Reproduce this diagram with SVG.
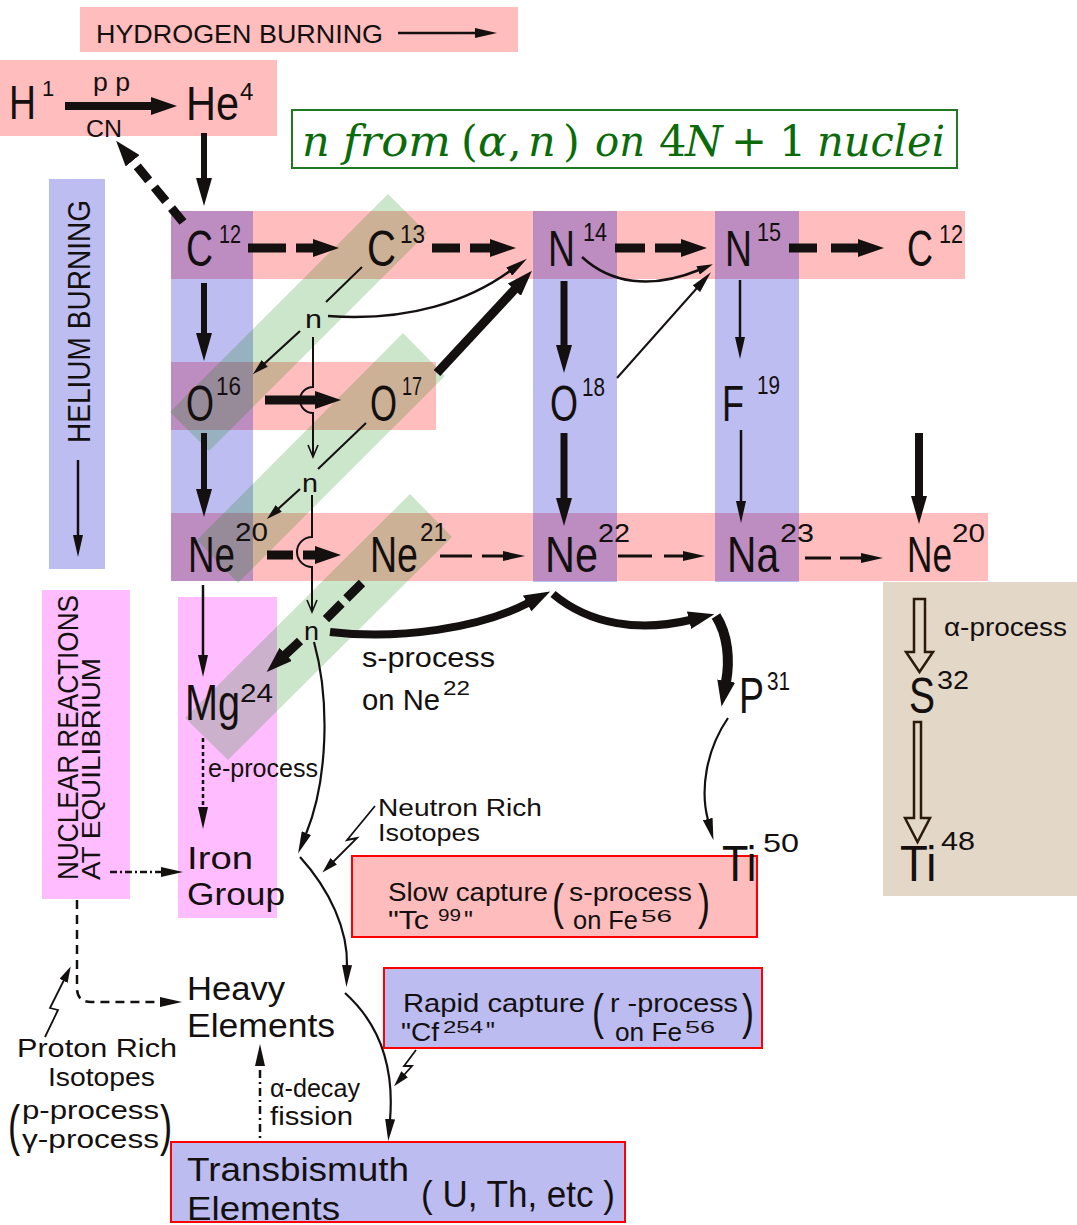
<svg xmlns="http://www.w3.org/2000/svg" width="1077" height="1225" viewBox="0 0 1077 1225">
<defs>
<style>
text{font-family:"Liberation Sans",Arial,sans-serif;fill:#141010}
.iso{font-size:50px}
.sup{font-size:25px}
.par{font-size:50px}
.pink{fill:#ff0000;fill-opacity:.26}
.blue{fill:#0000c8;fill-opacity:.26}
.mag{fill:#ff00ff;fill-opacity:.26}
.grn{fill:#008000;fill-opacity:.2}
.ln{fill:none;stroke:#141010}
.ttl{font-family:"DejaVu Serif","Liberation Serif",serif;font-size:43px;fill:#0b6b0b;font-style:italic}
.up{font-style:normal}
.hol{fill:none;stroke:#2a1a0a;stroke-width:2.5;stroke-linejoin:miter}
</style>
<marker id="mB" viewBox="0 0 26 18" refX="1" refY="9" markerWidth="26" markerHeight="18" markerUnits="userSpaceOnUse" orient="auto"><path d="M0,0L26,9L0,18z" fill="#141010"/></marker>
<marker id="mT" viewBox="0 0 28 16" refX="1" refY="8" markerWidth="28" markerHeight="16" markerUnits="userSpaceOnUse" orient="auto"><path d="M0,0L28,8L0,16z" fill="#141010"/></marker>
<marker id="mN" viewBox="0 0 22 10" refX="1" refY="5" markerWidth="22" markerHeight="10" markerUnits="userSpaceOnUse" orient="auto"><path d="M0,0L22,5L0,10z" fill="#141010"/></marker>
<marker id="mS" viewBox="0 0 16 9" refX="1" refY="4.5" markerWidth="16" markerHeight="9" markerUnits="userSpaceOnUse" orient="auto"><path d="M0,0L16,4.5L0,9z" fill="#141010"/></marker>
<marker id="mO" viewBox="0 0 12 10" refX="12" refY="5" markerWidth="12" markerHeight="10" markerUnits="userSpaceOnUse" orient="auto" overflow="visible"><path d="M0,0L12,5L0,10" fill="none" stroke="#141010" stroke-width="1.6"/></marker>
</defs>
<rect width="1077" height="1225" fill="#ffffff"/>

<g id="bands">
<rect class="pink" x="80" y="7" width="438" height="45"/>
<rect class="pink" x="0" y="60" width="277" height="76"/>
<rect class="pink" x="171" y="211" width="794" height="68"/>
<rect class="pink" x="171" y="362" width="265" height="68"/>
<rect class="pink" x="171" y="513" width="817" height="68"/>
<rect class="blue" x="171" y="211" width="82" height="370"/>
<rect class="blue" x="533" y="211" width="84" height="371"/>
<rect class="blue" x="715" y="211" width="84" height="371"/>
<rect class="blue" x="49" y="179" width="56" height="390"/>
<rect class="mag" x="42" y="590" width="88" height="309"/>
<rect class="mag" x="178" y="597" width="99" height="321"/>
<rect x="883" y="582" width="194" height="314" fill="#e3d7c8"/>
<polygon class="grn" points="388,194 427,233 209,451 170,412"/>
<polygon class="grn" points="403,333 445,376 238,583 197,540"/>
<polygon class="grn" points="410,494 452,537 228,760 185,718"/>
</g>

<g id="title">
<rect x="292" y="110" width="665" height="58" fill="#ffffff" stroke="#217a21" stroke-width="2"/>
<text class="ttl" y="156"><tspan x="302">n</tspan><tspan x="343" textLength="108" lengthAdjust="spacingAndGlyphs">from</tspan><tspan x="461" class="up">(</tspan><tspan x="478">α</tspan><tspan x="508" class="up">,</tspan><tspan x="528">n</tspan><tspan x="563" class="up">)</tspan><tspan x="595" textLength="50" lengthAdjust="spacingAndGlyphs">on</tspan><tspan x="659" class="up">4</tspan><tspan x="685">N</tspan><tspan x="731" class="up">+</tspan><tspan x="779" class="up">1</tspan><tspan x="817" textLength="128" lengthAdjust="spacingAndGlyphs">nuclei</tspan></text>
</g>

<g id="connectors">
<path class="ln" stroke-width="2.5" d="M398,33H476" marker-end="url(#mN)"/>
<path class="ln" stroke-width="8" d="M65,106H152" marker-end="url(#mB)"/>
<path class="ln" stroke-width="6" d="M204,133V179" marker-end="url(#mT)"/>
<path class="ln" stroke-width="9" stroke-dasharray="18 9" d="M183,222L132,160" marker-end="url(#mB)"/>
<path class="ln" stroke-width="9" stroke-dasharray="38 10" d="M248,248H314" marker-end="url(#mB)"/>
<path class="ln" stroke-width="9" stroke-dasharray="28 10" d="M432,248H491" marker-end="url(#mB)"/>
<path class="ln" stroke-width="9" stroke-dasharray="30 10" d="M615,248H682" marker-end="url(#mB)"/>
<path class="ln" stroke-width="9" stroke-dasharray="28 14" d="M789,248H859" marker-end="url(#mB)"/>
<path class="ln" stroke-width="2.5" d="M582,257C610,283 650,290 699,270" marker-end="url(#mS)"/>
<path class="ln" stroke-width="2.5" d="M328,316C410,322 470,300 510,271" marker-end="url(#mN)"/>
<path class="ln" stroke-width="2" d="M362,267L326,302"/>
<path class="ln" stroke-width="2.2" d="M300,331L264,364" marker-end="url(#mS)"/>
<path class="ln" stroke-width="2" d="M313,337V387A13,13 0 0 0 313,413V457" marker-end="url(#mO)"/>
<path class="ln" stroke-width="9" d="M265,400H316" marker-end="url(#mB)"/>
<path class="ln" stroke-width="2" d="M366,423L318,469"/>
<path class="ln" stroke-width="2.2" d="M300,489L278,509" marker-end="url(#mS)"/>
<path class="ln" stroke-width="2" d="M312,495V537A15,15 0 0 0 312,567V612" marker-end="url(#mO)"/>
<path class="ln" stroke-width="9" stroke-dasharray="26 10" d="M267,555H316" marker-end="url(#mB)"/>
<path class="ln" stroke-width="9" stroke-dasharray="22 7" d="M362,583L323,622"/>
<path class="ln" stroke-width="9" d="M300,641L285,655" marker-end="url(#mB)"/>
<path class="ln" stroke-width="8" d="M330,632C400,640 480,628 528,603" marker-end="url(#mB)"/>
<path class="ln" stroke-width="8" d="M553,594C590,625 640,632 690,620" marker-end="url(#mB)"/>
<path class="ln" stroke-width="10" d="M716,616C728,635 730,660 726,682" marker-end="url(#mB)"/>
<path class="ln" stroke-width="2.2" d="M728,718C706,750 700,790 708,820" marker-end="url(#mN)"/>
<path class="ln" stroke-width="2.2" d="M314,642C330,700 328,780 306,834" marker-end="url(#mN)"/>
<path class="ln" stroke-width="2.2" d="M300,857C330,890 348,930 347,966" marker-end="url(#mN)"/>
<path class="ln" stroke-width="2.2" d="M345,993C375,1020 395,1060 390,1120" marker-end="url(#mN)"/>
<path class="ln" stroke-width="1.8" d="M375,806L347,840L357,838L333,862" marker-end="url(#mS)"/>
<path class="ln" stroke-width="1.8" d="M386,890L364,912L372,912L362,922" marker-end="url(#mS)"/>
<path class="ln" stroke-width="1.8" d="M416,1050L404,1066L412,1066L404,1075" marker-end="url(#mS)"/>
<path class="ln" stroke-width="1.8" d="M45,1037L58,1010L50,1008L64,980" marker-end="url(#mS)"/>
<path class="ln" stroke-width="2.5" stroke-dasharray="7 3 2 3" d="M110,872H162" marker-end="url(#mN)"/>
<path class="ln" stroke-width="2.5" stroke-dasharray="9 6" d="M77,900V988Q77,1002 91,1002H161" marker-end="url(#mN)"/>
<path class="ln" stroke-width="2.5" stroke-dasharray="8 4 2 4" d="M260,1150V1065" marker-end="url(#mN)"/>
<path class="ln" stroke-width="2.5" stroke-dasharray="4 3" d="M203,738V808" marker-end="url(#mN)"/>
<path class="ln" stroke-width="2.5" d="M78,460V536" marker-end="url(#mN)"/>
<path class="ln" stroke-width="6" d="M204,283V334" marker-end="url(#mT)"/>
<path class="ln" stroke-width="6" d="M204,433V490" marker-end="url(#mT)"/>
<path class="ln" stroke-width="2.5" d="M203,585V656" marker-end="url(#mN)"/>
<path class="ln" stroke-width="7" d="M564,281V346" marker-end="url(#mT)"/>
<path class="ln" stroke-width="7" d="M564,433V499" marker-end="url(#mT)"/>
<path class="ln" stroke-width="2.5" d="M740,280V338" marker-end="url(#mN)"/>
<path class="ln" stroke-width="2.5" d="M741,430V502" marker-end="url(#mN)"/>
<path class="ln" stroke-width="8" d="M919,433V497" marker-end="url(#mT)"/>
<path class="ln" stroke-width="9" d="M437,373L515,289" marker-end="url(#mB)"/>
<path class="ln" stroke-width="2" d="M617,378L697,288" marker-end="url(#mN)"/>
<path class="ln" stroke-width="3" stroke-dasharray="32 10" d="M440,556H504" marker-end="url(#mN)"/>
<path class="ln" stroke-width="3" stroke-dasharray="34 12" d="M618,556H684" marker-end="url(#mN)"/>
<path class="ln" stroke-width="3" stroke-dasharray="26 9" d="M805,558H862" marker-end="url(#mN)"/>
<path class="hol" d="M914,599H925V652H933L919.5,672L906,652H914Z"/>
<path class="hol" d="M914,722H921V818H930L917.5,842L905,818H914Z"/>
</g>

<g id="hburn"><text x="96" y="43" font-size="25" textLength="287" lengthAdjust="spacingAndGlyphs">HYDROGEN  BURNING</text></g>
<g id="H1"><text transform="translate(9,119) scale(.778,1)" font-size="48">H</text><text x="42" y="96" font-size="22">1</text></g>
<g id="pp"><text x="93" y="91" font-size="25" textLength="37" lengthAdjust="spacingAndGlyphs">p p</text><text x="86" y="137" font-size="24" textLength="36" lengthAdjust="spacingAndGlyphs">CN</text></g>
<g id="He4"><text transform="translate(186,120) scale(.847,1)" font-size="49">He</text><text x="240" y="100" font-size="24">4</text></g>
<g id="heburn"><text transform="translate(90,443) rotate(-90)" font-size="31" textLength="243" lengthAdjust="spacingAndGlyphs">HELIUM   BURNING</text></g>

<g id="C12"><text class="iso" transform="translate(186,266) scale(.748,1)">C</text><text class="sup" x="219" y="243" textLength="22" lengthAdjust="spacingAndGlyphs">12</text></g>
<g id="C13"><text class="iso" transform="translate(367,266) scale(.803,1)">C</text><text class="sup" x="400" y="243" textLength="25" lengthAdjust="spacingAndGlyphs">13</text></g>
<g id="N14"><text class="iso" transform="translate(548,266) scale(.748,1)">N</text><text class="sup" x="583" y="241" textLength="24" lengthAdjust="spacingAndGlyphs">14</text></g>
<g id="N15"><text class="iso" transform="translate(725,266) scale(.748,1)">N</text><text class="sup" x="757" y="241" textLength="24" lengthAdjust="spacingAndGlyphs">15</text></g>
<g id="C12b"><text class="iso" transform="translate(907,266) scale(.72,1)">C</text><text class="sup" x="939" y="243" textLength="24" lengthAdjust="spacingAndGlyphs">12</text></g>
<g id="n1"><text x="305" y="328" font-size="26" textLength="17" lengthAdjust="spacingAndGlyphs">n</text></g>

<g id="O16"><text class="iso" transform="translate(186,421) scale(.72,1)">O</text><text class="sup" x="216" y="395" textLength="25" lengthAdjust="spacingAndGlyphs">16</text></g>
<g id="O17"><text class="iso" transform="translate(370,421) scale(.694,1)">O</text><text class="sup" x="402" y="395" textLength="20" lengthAdjust="spacingAndGlyphs">17</text></g>
<g id="O18"><text class="iso" transform="translate(550,421) scale(.72,1)">O</text><text class="sup" x="582" y="396" textLength="23" lengthAdjust="spacingAndGlyphs">18</text></g>
<g id="F19"><text class="iso" transform="translate(722,421) scale(.72,1)">F</text><text class="sup" x="757" y="394" textLength="23" lengthAdjust="spacingAndGlyphs">19</text></g>
<g id="n2"><text x="302" y="492" font-size="26" textLength="16" lengthAdjust="spacingAndGlyphs">n</text></g>

<g id="Ne20"><text class="iso" transform="translate(188,572) scale(.736,1)">Ne</text><text class="sup" x="235" y="541" font-size="26" textLength="33" lengthAdjust="spacingAndGlyphs">20</text></g>
<g id="Ne21"><text class="iso" transform="translate(370,572) scale(.751,1)">Ne</text><text class="sup" x="420" y="541" textLength="27" lengthAdjust="spacingAndGlyphs">21</text></g>
<g id="Ne22"><text class="iso" transform="translate(545,572) scale(.829,1)">Ne</text><text class="sup" x="598" y="542" textLength="32" lengthAdjust="spacingAndGlyphs">22</text></g>
<g id="Na23"><text class="iso" transform="translate(727,572) scale(.814,1)">Na</text><text class="sup" x="780" y="542" textLength="34" lengthAdjust="spacingAndGlyphs">23</text></g>
<g id="Ne20b"><text class="iso" transform="translate(907,572) scale(.704,1)">Ne</text><text class="sup" x="952" y="542" textLength="33" lengthAdjust="spacingAndGlyphs">20</text></g>
<g id="n3"><text x="304" y="640" font-size="26" textLength="15" lengthAdjust="spacingAndGlyphs">n</text></g>

<g id="Mg24"><text class="iso" transform="translate(185,720) scale(.792,1)">Mg</text><text class="sup" x="240" y="702" font-size="26" textLength="33" lengthAdjust="spacingAndGlyphs">24</text></g>
<g id="eproc"><text x="208" y="777" font-size="26" textLength="110" lengthAdjust="spacingAndGlyphs">e-process</text></g>
<g id="iron"><text x="187" y="869" font-size="32" textLength="66" lengthAdjust="spacingAndGlyphs">Iron</text><text x="187" y="905" font-size="32" textLength="98" lengthAdjust="spacingAndGlyphs">Group</text></g>
<g id="nuclear"><text transform="translate(78,880) rotate(-90)" font-size="30" textLength="285" lengthAdjust="spacingAndGlyphs">NUCLEAR REACTIONS</text><text transform="translate(100,880) rotate(-90)" font-size="25" textLength="222" lengthAdjust="spacingAndGlyphs">AT EQUILIBRIUM</text></g>

<g id="sproc"><text x="362" y="667" font-size="28" textLength="133" lengthAdjust="spacingAndGlyphs">s-process</text><text x="362" y="710" font-size="30" textLength="78" lengthAdjust="spacingAndGlyphs">on Ne</text><text x="443" y="695" font-size="20" textLength="27" lengthAdjust="spacingAndGlyphs">22</text></g>
<g id="P31"><text class="iso" transform="translate(739,713) scale(.75,1)">P</text><text class="sup" x="767" y="690" textLength="23" lengthAdjust="spacingAndGlyphs">31</text></g>
<g id="aproc"><text x="944" y="636" font-size="26" textLength="123" lengthAdjust="spacingAndGlyphs">α-process</text></g>
<g id="S32"><text class="iso" transform="translate(909,713) scale(.78,1)">S</text><text class="sup" x="937" y="689" textLength="32" lengthAdjust="spacingAndGlyphs">32</text></g>
<g id="Ti48"><text class="iso" transform="translate(900,881) scale(.912,1)">Ti</text><text class="sup" x="941" y="850" font-size="26" textLength="34" lengthAdjust="spacingAndGlyphs">48</text></g>

<g id="nrich"><text x="378" y="816" font-size="23" textLength="164" lengthAdjust="spacingAndGlyphs">Neutron Rich</text><text x="378" y="841" font-size="23" textLength="102" lengthAdjust="spacingAndGlyphs">Isotopes</text></g>

<g id="slow">
<rect x="352" y="856" width="405" height="81" fill="#ffbcbc" stroke="#ff0000" stroke-width="2"/>
<text x="388" y="901" font-size="25" textLength="160" lengthAdjust="spacingAndGlyphs">Slow capture</text>
<text class="par" transform="translate(552,919) scale(.72,1)">(</text>
<text x="569" y="901" font-size="25" textLength="123" lengthAdjust="spacingAndGlyphs">s-process</text>
<text class="par" transform="translate(698,919) scale(.72,1)">)</text>
<text x="388" y="929" font-size="25" textLength="41" lengthAdjust="spacingAndGlyphs">"Tc</text>
<text x="438" y="921" font-size="16" textLength="23" lengthAdjust="spacingAndGlyphs">99</text>
<text x="464" y="929" font-size="25">"</text>
<text x="573" y="929" font-size="25" textLength="65" lengthAdjust="spacingAndGlyphs">on Fe</text>
<text x="641" y="922" font-size="16" textLength="31" lengthAdjust="spacingAndGlyphs">56</text>
</g>
<g id="Ti50"><text class="iso" transform="translate(722,881) scale(.864,1)">Ti</text><text class="sup" x="763" y="852" font-size="26" textLength="36" lengthAdjust="spacingAndGlyphs">50</text></g>

<g id="rapid">
<rect x="384" y="968" width="378" height="80" fill="#bcbcf0" stroke="#ff0000" stroke-width="2"/>
<text x="403" y="1012" font-size="25" textLength="182" lengthAdjust="spacingAndGlyphs">Rapid capture</text>
<text class="par" transform="translate(592,1029) scale(.72,1)">(</text>
<text x="610" y="1012" font-size="25" textLength="128" lengthAdjust="spacingAndGlyphs">r -process</text>
<text class="par" transform="translate(742,1029) scale(.72,1)">)</text>
<text x="401" y="1041" font-size="25" textLength="38" lengthAdjust="spacingAndGlyphs">"Cf</text>
<text x="443" y="1033" font-size="16" textLength="40" lengthAdjust="spacingAndGlyphs">254</text>
<text x="486" y="1040" font-size="25">"</text>
<text x="615" y="1041" font-size="25" textLength="67" lengthAdjust="spacingAndGlyphs">on Fe</text>
<text x="685" y="1033" font-size="16" textLength="30" lengthAdjust="spacingAndGlyphs">56</text>
</g>

<g id="heavy"><text x="187" y="1000" font-size="33" textLength="98" lengthAdjust="spacingAndGlyphs">Heavy</text><text x="187" y="1037" font-size="33" textLength="148" lengthAdjust="spacingAndGlyphs">Elements</text></g>
<g id="decay"><text x="270" y="1097" font-size="25" textLength="90" lengthAdjust="spacingAndGlyphs">α-decay</text><text x="270" y="1125" font-size="25" textLength="83" lengthAdjust="spacingAndGlyphs">fission</text></g>

<g id="prich">
<text x="17" y="1057" font-size="25" textLength="160" lengthAdjust="spacingAndGlyphs">Proton Rich</text>
<text x="48" y="1086" font-size="25" textLength="107" lengthAdjust="spacingAndGlyphs">Isotopes</text>
<text transform="translate(8,1144) scale(.65,1)" font-size="56">(</text>
<text x="22" y="1119" font-size="25" textLength="137" lengthAdjust="spacingAndGlyphs">p-process</text>
<text x="22" y="1148" font-size="25" textLength="137" lengthAdjust="spacingAndGlyphs">γ-process</text>
<text transform="translate(160,1144) scale(.65,1)" font-size="56">)</text>
</g>

<g id="transbismuth">
<rect x="171" y="1142" width="454" height="80" fill="#bcbcf0" stroke="#ff0000" stroke-width="2"/>
<text x="187" y="1181" font-size="34" textLength="222" lengthAdjust="spacingAndGlyphs">Transbismuth</text>
<text x="187" y="1220" font-size="34" textLength="153" lengthAdjust="spacingAndGlyphs">Elements</text>
<text x="421" y="1207" font-size="36" textLength="194" lengthAdjust="spacingAndGlyphs">( U, Th, etc )</text>
</g>
</svg>
